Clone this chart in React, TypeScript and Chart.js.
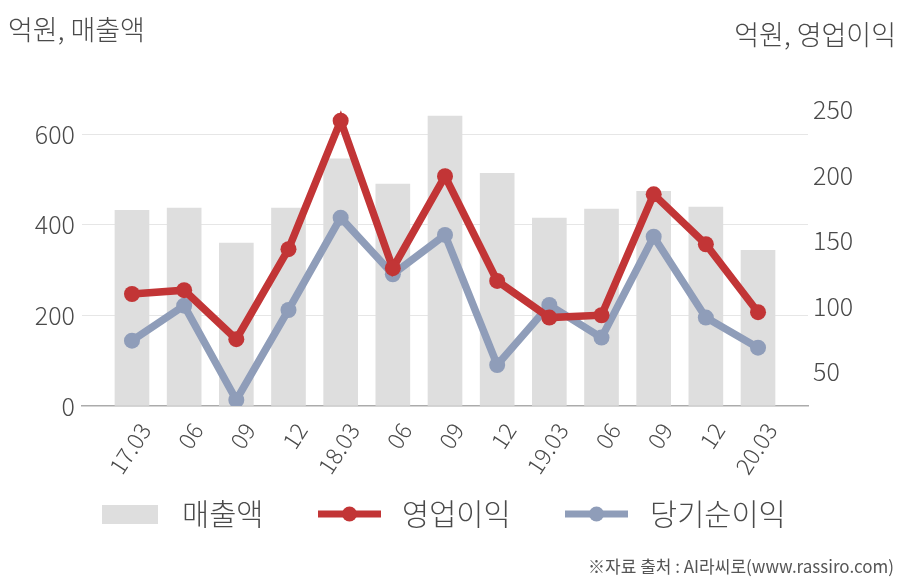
import React, { useEffect, useRef } from 'react';
import { Chart, registerables } from 'chart.js';

Chart.register(...registerables);

const categories = ['17.03', '06', '09', '12', '18.03', '06', '09', '12', '19.03', '06', '09', '12', '20.03'];
const sales = [432, 437, 360, 437, 546, 490, 640, 514, 415, 435, 474, 439, 344];
const operatingProfit = [109.5, 112.4, 75, 143.7, 241.8, 129.2, 199.4, 119.5, 91.5, 93.3, 185.6, 147.5, 95.6];
const netProfit = [73.9, 100.6, 28.6, 97.3, 167.8, 124.6, 154.6, 55.3, 101.1, 76.2, 153.3, 91.5, 68.5];
const leftTicks = [0, 200, 400, 600];
const rightTicks = [50, 100, 150, 200, 250];
const seriesNames = ['매출액', '영업이익', '당기순이익'];
const leftTitle = '억원, 매출액';
const rightTitle = '억원, 영업이익';
const footnote = '※자료 출처 : AI라씨로(www.rassiro.com)';

const FONT = '"Noto Sans CJK KR", "Noto Sans", sans-serif';
const BAR = '#dedede';
const RED = '#c23536';
const BLUE = '#8f9db9';
const TEXT = '#4a4a4a';

const overlayPlugin = {
  id: 'overlay',
  afterDraw(chart: any) {
    const ctx = chart.ctx;
    ctx.save();
    ctx.fillStyle = TEXT;
    ctx.textBaseline = 'middle';
    ctx.font = `300 27px ${FONT}`;
    ctx.textAlign = 'left';
    ctx.fillText(leftTitle, 8, 30);
    ctx.textAlign = 'right';
    ctx.fillText(rightTitle, 896, 35);

    // legend
    const ly = 514;
    ctx.font = `300 29.5px ${FONT}`;
    ctx.textAlign = 'left';
    ctx.fillStyle = BAR;
    ctx.fillRect(102, 505, 56, 19);
    ctx.fillStyle = TEXT;
    ctx.fillText(seriesNames[0], 182, ly);

    const drawLineItem = (x0: number, x1: number, color: string, label: string, tx: number) => {
      ctx.strokeStyle = color;
      ctx.lineWidth = 7;
      ctx.beginPath();
      ctx.moveTo(x0, ly);
      ctx.lineTo(x1, ly);
      ctx.stroke();
      ctx.fillStyle = color;
      ctx.beginPath();
      ctx.arc((x0 + x1) / 2, ly, 7.5, 0, Math.PI * 2);
      ctx.fill();
      ctx.fillStyle = TEXT;
      ctx.fillText(label, tx, ly);
    };
    drawLineItem(318, 381, RED, seriesNames[1], 402);
    drawLineItem(565, 628, BLUE, seriesNames[2], 650);

    ctx.font = `17px ${FONT}`;
    ctx.textAlign = 'right';
    ctx.fillStyle = '#555';
    ctx.fillText(footnote, 894, 567);
    ctx.restore();
  },
};

export default function App() {
  const ref = useRef<HTMLCanvasElement | null>(null);

  useEffect(() => {
    document.body.style.margin = '0';
    const canvas = ref.current;
    if (!canvas) return;
    const chart = new Chart(canvas, {
      type: 'bar',
      data: {
        datasets: [
          {
            type: 'line',
            label: seriesNames[1],
            data: operatingProfit.map((v, i) => ({ x: i, y: v })),
            yAxisID: 'y1',
            borderColor: RED,
            backgroundColor: RED,
            borderWidth: 7.5,
            pointRadius: 8,
            pointBorderWidth: 0,
            pointBackgroundColor: RED,
            tension: 0,
            order: 1,
          } as any,
          {
            type: 'line',
            label: seriesNames[2],
            data: netProfit.map((v, i) => ({ x: i, y: v })),
            yAxisID: 'y1',
            borderColor: BLUE,
            backgroundColor: BLUE,
            borderWidth: 7.5,
            pointRadius: 8,
            pointBorderWidth: 0,
            pointBackgroundColor: BLUE,
            tension: 0,
            order: 2,
          } as any,
          {
            type: 'bar',
            label: seriesNames[0],
            data: sales.map((v, i) => ({ x: i, y: v })),
            yAxisID: 'y',
            backgroundColor: BAR,
            barThickness: 34,
            order: 3,
          } as any,
        ],
      },
      options: {
        animation: false,
        responsive: false,
        maintainAspectRatio: false,
        layout: { padding: { top: 89, left: 0, right: 0, bottom: 0 } },
        plugins: { legend: { display: false }, tooltip: { enabled: false } },
        scales: {
          x: {
            type: 'linear',
            offset: false,
            min: -0.958,
            max: 12.958,
            afterBuildTicks: (s: any) => {
              s.ticks = categories.map((_, i) => ({ value: i }));
            },
            afterFit: (s: any) => {
              s.height = 174;
            },
            ticks: {
              autoSkip: false,
              minRotation: 57,
              maxRotation: 57,
              labelOffset: 13,
              padding: 4,
              color: TEXT,
              font: { family: FONT, size: 23, weight: 300 },
              callback: (v: any) => categories[v] ?? '',
            },
            grid: { display: false, offset: false },
            border: { display: true, color: '#ababab', width: 1.5 },
          },
          y: {
            position: 'left',
            min: 0,
            max: 700,
            afterBuildTicks: (s: any) => {
              s.ticks = leftTicks.map((v) => ({ value: v }));
            },
            afterFit: (s: any) => {
              s.width = 82;
            },
            ticks: { padding: 7, color: TEXT, font: { family: FONT, size: 25, weight: 300 } },
            grid: { color: (c: any) => (c.tick && c.tick.value === 0 ? 'rgba(0,0,0,0)' : '#e6e6e6'), drawTicks: false, lineWidth: 1 },
            border: { display: false },
          },
          y1: {
            position: 'right',
            min: 24,
            max: 266,
            afterBuildTicks: (s: any) => {
              s.ticks = rightTicks.map((v) => ({ value: v }));
            },
            afterFit: (s: any) => {
              s.width = 100;
            },
            ticks: { padding: 5, color: TEXT, font: { family: FONT, size: 25, weight: 300 } },
            grid: { display: false, drawTicks: false },
            border: { display: false },
          },
        },
      } as any,
      plugins: [overlayPlugin],
    });
    return () => chart.destroy();
  }, []);

  return (
    <div style={{ width: 908, height: 580 }}>
      <canvas ref={ref} width={908} height={580} style={{ display: 'block', width: 908, height: 580 }} />
    </div>
  );
}
